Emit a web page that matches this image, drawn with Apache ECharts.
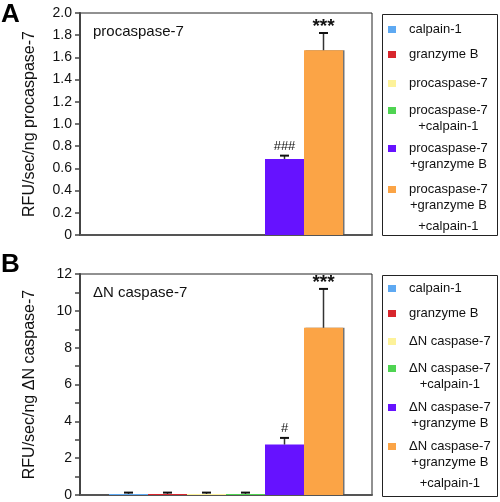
<!DOCTYPE html>
<html>
<head>
<meta charset="utf-8">
<script src="https://cdn.jsdelivr.net/npm/echarts@6/dist/echarts.min.js"></script>
<style>
html,body{margin:0;padding:0;background:#fff;}
#chart{width:500px;height:502px;}
</style>
</head>
<body>
<div id="chart"></div>
<script>
// ---- data ----
const namesA = ['calpain-1', 'granzyme B', 'procaspase-7', 'procaspase-7\n+calpain-1', 'procaspase-7\n+granzyme B', 'procaspase-7\n+granzyme B\n+calpain-1'];
const namesB = ['calpain-1', 'granzyme B', '\u0394N caspase-7', '\u0394N caspase-7\n+calpain-1', '\u0394N caspase-7\n+granzyme B', '\u0394N caspase-7\n+granzyme B\n+calpain-1'];
const valuesA = [0, 0, 0, 0, 0.685, 1.665];
const errTopA = [null, null, null, null, 0.715, 1.82];
const sigA = ['', '', '', '', '###', '***'];
const valuesB = [0.06, 0.06, 0.06, 0.06, 2.74, 9.08];
const errTopB = [0.13, 0.13, 0.13, 0.13, 3.1, 11.19];
const sigB = ['', '', '', '', '#', '***'];
const yAxisA = {min: 0, max: 2, interval: 0.2};
const yAxisB = {min: 0, max: 12, interval: 1};
const titleA = 'procaspase-7';
const titleB = '\u0394N caspase-7';
const yNameA = 'RFU/sec/ng procaspase-7';
const yNameB = 'RFU/sec/ng \u0394N caspase-7';

// ---- styles / layout ----
const colors = ['#5ea9f2', '#d8262d', '#fdf29a', '#4fd452', '#6612ff', '#fba446'];
const FONT = '"Liberation Sans", Arial, Helvetica, sans-serif';
const BAR_W = 39;
const legendFirstLineA = [28, 53, 82, 109, 147, 188];
const legendFirstLineB = [287, 312, 340, 367, 406, 445];
const lineH = [16, 16, 26];
const legendOffset = 5;

const chart = echarts.init(document.getElementById('chart'), null, {renderer: 'canvas'});

function makeLegends(names, firstLines) {
  return names.map((nm, i) => {
    const parts = nm.split('\n');
    let below = 0;
    for (let k = 1; k < parts.length; k++) below += lineH[k];
    return {
      data: [nm],
      left: 388,
      top: firstLines[i] - legendOffset,
      orient: 'vertical',
      padding: 0,
      itemWidth: 8,
      itemHeight: 7,
      icon: 'rect',
      selectedMode: false,
      itemStyle: {shadowColor: 'transparent', shadowOffsetX: 0, shadowBlur: 0},
      formatter: (n) => n.split('\n').map((s, k) => '{l' + (k + 1) + '|' + s + '}').join('\n'),
      textStyle: {
        fontSize: 13, fontFamily: FONT, color: '#111',
        padding: [below, 0, 0, 8],
        rich: {
          l1: {align: 'center', lineHeight: lineH[0], fontSize: 13, fontFamily: FONT, color: '#111'},
          l2: {align: 'center', lineHeight: lineH[1], fontSize: 13, fontFamily: FONT, color: '#111'},
          l3: {align: 'center', lineHeight: lineH[2], fontSize: 13, fontFamily: FONT, color: '#111'}
        }
      }
    };
  });
}

function barSeries(names, values, gridIdx) {
  return names.map((nm, i) => ({
    type: 'bar',
    name: nm,
    xAxisIndex: gridIdx,
    yAxisIndex: gridIdx,
    data: [values[i]],
    barWidth: BAR_W,
    barGap: '0%',
    itemStyle: Object.assign({color: colors[i]}, i === 5 ? {shadowColor: 'rgba(80,80,80,0.8)', shadowOffsetX: 1.5, shadowBlur: 0} : {}),
    silent: true
  }));
}

function errSeries(values, tops, sigs, gridIdx) {
  return {
    type: 'custom',
    xAxisIndex: gridIdx,
    yAxisIndex: gridIdx,
    z: 5,
    silent: true,
    data: values.map((v, i) => [0, v]),
    renderItem: function (params, api) {
      const i = params.dataIndex;
      const top = tops[i];
      if (top == null) return null;
      const c0 = api.coord([0, values[i]]);
      const c1 = api.coord([0, top]);
      const x = c0[0] + (i - 2.5) * BAR_W;
      const st = {stroke: '#333', lineWidth: 1.5};
      const children = [
        {type: 'line', shape: {x1: x, y1: c0[1], x2: x, y2: c1[1]}, style: st},
        {type: 'line', shape: {x1: x - 4.5, y1: c1[1], x2: x + 4.5, y2: c1[1]}, style: {stroke: '#111', lineWidth: 2}}
      ];
      if (sigs[i]) {
        const isStar = sigs[i].indexOf('*') >= 0;
        children.push({
          type: 'text',
          style: {
            x: x, y: c1[1] + (isStar ? 3 : -3),
            text: sigs[i],
            align: 'center', verticalAlign: 'bottom',
            font: (isStar ? 'bold 19px ' : '13px ') + FONT,
            fill: '#111'
          }
        });
      }
      return {type: 'group', children: children};
    }
  };
}

function yAxisDef(gridIdx, cfg, name, labelFn) {
  return Object.assign({
    type: 'value',
    gridIndex: gridIdx,
    name: name,
    nameLocation: 'middle',
    nameGap: 42,
    nameTextStyle: {fontSize: 16, fontFamily: FONT, color: '#111'},
    axisLine: {show: true, lineStyle: {color: '#444', width: 2}},
    axisTick: {show: true, inside: false, length: 5, lineStyle: {color: '#444', width: 1.5}},
    axisLabel: {fontSize: 14, fontFamily: FONT, color: '#111', margin: 8, formatter: labelFn},
    splitLine: {show: false}
  }, cfg);
}

function xAxisDef(gridIdx) {
  return {
    type: 'category',
    gridIndex: gridIdx,
    data: [''],
    axisLine: {show: true, lineStyle: {color: '#555', width: 2}},
    axisTick: {show: false},
    axisLabel: {show: false},
    splitLine: {show: false}
  };
}

const option = {
  backgroundColor: '#fff',
  animation: false,
  title: [
    {text: 'A', left: 1, top: 2, padding: 0, textStyle: {fontSize: 26, fontWeight: 'bold', fontFamily: FONT, color: '#000'}},
    {text: titleA, left: 93, top: 24, padding: 0, textStyle: {fontSize: 15, fontWeight: 'normal', fontFamily: FONT, color: '#111'}},
    {text: 'B', left: 1, top: 252, padding: 0, textStyle: {fontSize: 26, fontWeight: 'bold', fontFamily: FONT, color: '#000'}},
    {text: titleB, left: 93, top: 285, padding: 0, textStyle: {fontSize: 15, fontWeight: 'normal', fontFamily: FONT, color: '#111'}}
  ],
  legend: makeLegends(namesA, legendFirstLineA).concat(makeLegends(namesB, legendFirstLineB)),
  grid: [
    {left: 80, top: 13, right: 128, bottom: 267, show: true, borderColor: '#222', borderWidth: 1, containLabel: false},
    {left: 80, top: 274, right: 128, bottom: 5, show: true, borderColor: '#222', borderWidth: 1, containLabel: false}
  ],
  xAxis: [xAxisDef(0), xAxisDef(1)],
  yAxis: [
    yAxisDef(0, yAxisA, yNameA, v => v === 0 ? '0' : v.toFixed(1)),
    yAxisDef(1, yAxisB, yNameB, v => (Math.round(v) % 2 === 0) ? String(Math.round(v)) : '')
  ],
  graphic: [
    {type: 'rect', shape: {x: 382.5, y: 14.5, width: 115, height: 221}, style: {fill: 'none', stroke: '#222', lineWidth: 1}, silent: true},
    {type: 'rect', shape: {x: 382.5, y: 275.5, width: 115, height: 221}, style: {fill: 'none', stroke: '#222', lineWidth: 1}, silent: true}
  ],
  series: barSeries(namesA, valuesA, 0)
    .concat(barSeries(namesB, valuesB, 1))
    .concat([errSeries(valuesA, errTopA, sigA, 0), errSeries(valuesB, errTopB, sigB, 1)])
};

chart.setOption(option);
</script>
</body>
</html>
